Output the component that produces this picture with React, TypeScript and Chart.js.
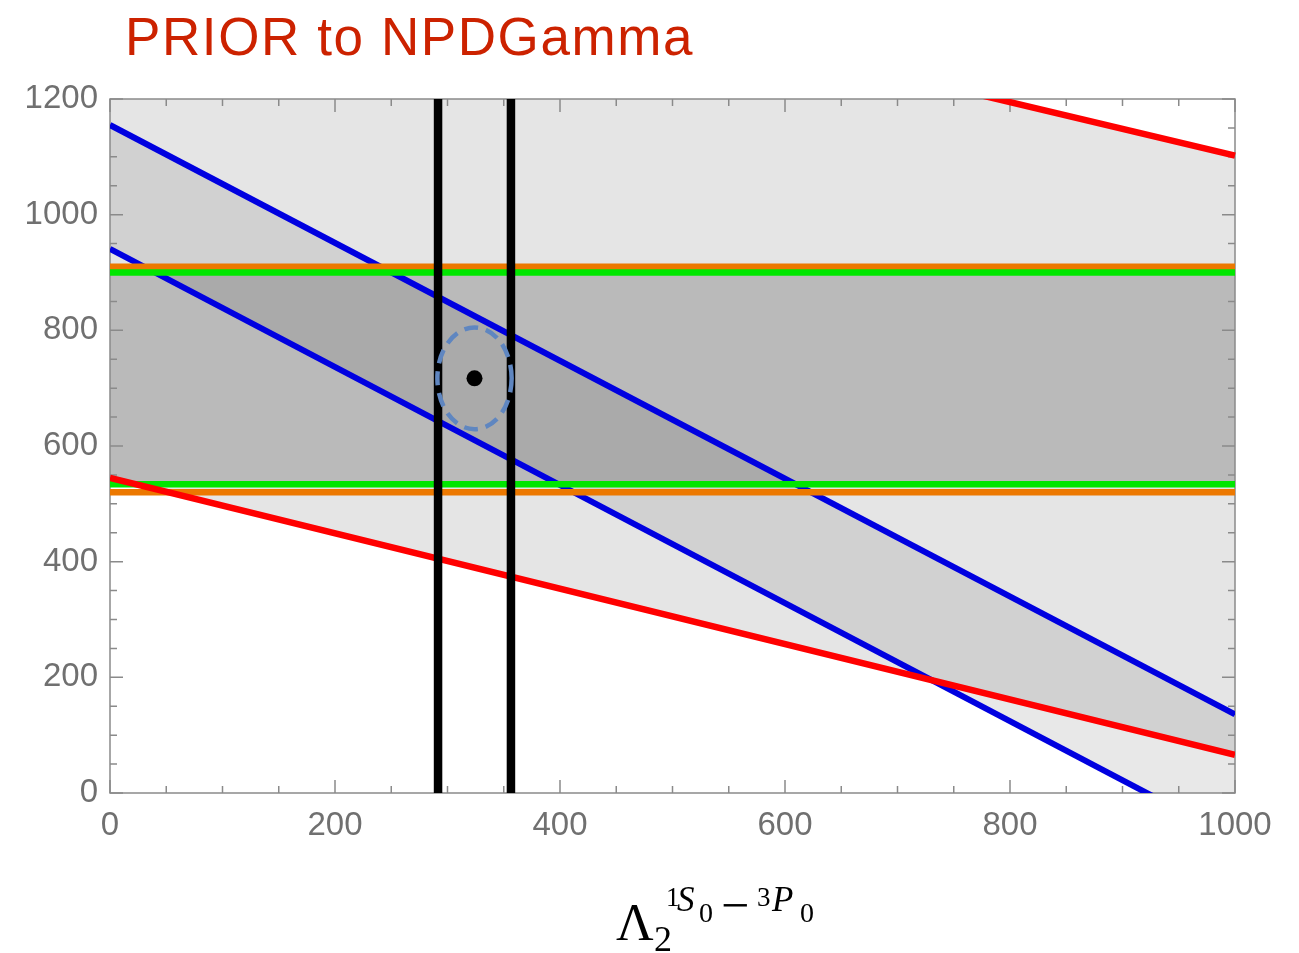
import { useEffect, useRef } from 'react';
import { Chart, registerables } from 'chart.js';

Chart.register(...registerables);

// Axis ranges and tick marks
const xRange = [0, 1000];
const yRange = [0, 1200];
const majorStep = 200;
const minorStep = 50;

// Constraint lines, given by their values at x = 0 and x = 1000
const lineX = [0, 1000];
const redLowerY = [545, 66];
const redUpperY = [1565, 1102];
const blueUpperY = [1155, 136];
const blueLowerY = [941, -80];
const greenLowerY = [534, 534];
const greenUpperY = [900, 900];
const orangeLowerY = [520, 520];
const orangeUpperY = [910, 910];

// Vertical bounds on Λ₂ (x)
const blackX = [291.6, 356.4];

// Best-fit point and its 1σ ellipse (centre, semi-axes)
const bestX = [324];
const bestY = [717];
const ellipseCenter = [324, 717];
const ellipseRadii = [33, 88];

const toPts = (ys: number[]) => lineX.map((x, i) => ({ x, y: ys[i] }));
const vertical = (x: number) => [{ x, y: yRange[0] }, { x, y: yRange[1] }];

const tickValues = (max: number) => {
  const out: number[] = [];
  for (let v = 0; v <= max; v += minorStep) out.push(v);
  return out;
};

const lineDs = (data: any[], color: string, width: number, extra: any = {}) => ({
  type: 'line' as const,
  data,
  borderColor: color,
  borderWidth: width,
  pointRadius: 0,
  tension: 0,
  fill: false,
  borderCapStyle: 'butt' as const,
  ...extra,
});

const framePlugin = {
  id: 'frameTicks',
  beforeDatasetsDraw(chart: any) {
    const { ctx, chartArea: a, scales } = chart;
    const x = scales.x;
    const y = scales.y;
    ctx.save();
    ctx.strokeStyle = '#8a8a8a';
    ctx.lineWidth = 1.5;
    ctx.strokeRect(a.left, a.top, a.right - a.left, a.bottom - a.top);
    ctx.beginPath();
    for (const v of tickValues(xRange[1])) {
      const px = x.getPixelForValue(v);
      const len = v % majorStep === 0 ? 13 : 7;
      ctx.moveTo(px, a.bottom);
      ctx.lineTo(px, a.bottom - len);
      ctx.moveTo(px, a.top);
      ctx.lineTo(px, a.top + len);
    }
    for (const v of tickValues(yRange[1])) {
      const py = y.getPixelForValue(v);
      const len = v % majorStep === 0 ? 13 : 7;
      ctx.moveTo(a.left, py);
      ctx.lineTo(a.left + len, py);
      ctx.moveTo(a.right, py);
      ctx.lineTo(a.right - len, py);
    }
    ctx.stroke();
    ctx.restore();
  },
};

const ellipsePlugin = {
  id: 'sigmaEllipse',
  afterDatasetDraw(chart: any, args: any) {
    if (args.index !== 1) return;
    const { ctx, chartArea: a, scales } = chart;
    const x = scales.x;
    const y = scales.y;
    const cx = x.getPixelForValue(ellipseCenter[0]);
    const cy = y.getPixelForValue(ellipseCenter[1]);
    const rx = Math.abs(x.getPixelForValue(ellipseCenter[0] + ellipseRadii[0]) - cx);
    const ry = Math.abs(y.getPixelForValue(ellipseCenter[1] + ellipseRadii[1]) - cy);
    ctx.save();
    ctx.beginPath();
    ctx.rect(a.left, a.top, a.right - a.left, a.bottom - a.top);
    ctx.clip();
    ctx.setLineDash([14, 8]);
    ctx.lineWidth = 4.5;
    ctx.strokeStyle = '#5f86c0';
    ctx.beginPath();
    ctx.ellipse(cx, cy, rx, ry, 0, 0, Math.PI * 2);
    ctx.stroke();
    ctx.restore();
  },
};

const textPlugin = {
  id: 'labels',
  afterDraw(chart: any) {
    const { ctx } = chart;
    ctx.save();
    ctx.textAlign = 'left';
    ctx.textBaseline = 'alphabetic';
    ctx.fillStyle = '#cc2200';
    ctx.font = '53px "Liberation Sans"';
    (ctx as any).letterSpacing = '1.6px';
    ctx.fillText('PRIOR to NPDGamma', 125, 55);
    (ctx as any).letterSpacing = '0px';

    ctx.fillStyle = '#000';
    const parts = [
      { t: 'Λ', f: '52px "Liberation Serif"', x: 616, y: 940 },
      { t: '2', f: '36px "Liberation Serif"', x: 654, y: 951 },
      { t: '1', f: '27px "Liberation Serif"', x: 666, y: 906 },
      { t: 'S', f: 'italic 35px "Liberation Serif"', x: 677, y: 911 },
      { t: '0', f: '28px "Liberation Serif"', x: 699, y: 922 },
      { t: '−', f: '50px "Liberation Serif"', x: 721, y: 922 },
      { t: '3', f: '27px "Liberation Serif"', x: 757, y: 906 },
      { t: 'P', f: 'italic 35px "Liberation Serif"', x: 772, y: 911 },
      { t: '0', f: '28px "Liberation Serif"', x: 800, y: 922 },
    ];
    for (const p of parts) {
      ctx.font = p.f;
      ctx.fillText(p.t, p.x, p.y);
    }
    ctx.restore();
  },
};

export default function App() {
  const ref = useRef<HTMLCanvasElement>(null);

  useEffect(() => {
    document.body.style.margin = '0';
    const canvas = ref.current;
    if (!canvas) return;
    const tickFont = { family: '"Liberation Sans"', size: 33 };
    const plain = (v: any) => String(v);
    const chart = new Chart(canvas, {
      type: 'line',
      data: {
        datasets: [
          {
            type: 'line',
            data: bestX.map((x, i) => ({ x, y: bestY[i] })),
            showLine: false,
            pointRadius: 8,
            pointBackgroundColor: '#000',
            pointBorderWidth: 0,
            fill: false,
          },
          lineDs(vertical(blackX[0]), '#000', 8.5),
          lineDs(vertical(blackX[1]), '#000', 8.5),
          lineDs(toPts(redLowerY), '#ff0000', 6.5, { fill: '+1', backgroundColor: 'rgba(0,0,0,0.10)' }),
          lineDs(toPts(redUpperY), '#ff0000', 6.5, { clip: { left: 4, top: 0, right: 4, bottom: 4 } }),
          lineDs(toPts(greenLowerY), '#00e600', 6.5, { fill: '+1', backgroundColor: 'rgba(0,0,0,0.19)' }),
          lineDs(toPts(greenUpperY), '#00e600', 6.5),
          lineDs(toPts(orangeLowerY), '#ec7800', 6.5),
          lineDs(toPts(orangeUpperY), '#ec7800', 6.5),
          lineDs(toPts(blueUpperY), '#0000e0', 6, { fill: '+1', backgroundColor: 'rgba(0,0,0,0.09)' }),
          lineDs(toPts(blueLowerY), '#0000e0', 6),
        ] as any,
      },
      options: {
        responsive: false,
        animation: false,
        events: [],
        layout: { padding: { left: 20, top: 99, right: 64, bottom: 100 } },
        plugins: {
          legend: { display: false },
          tooltip: { enabled: false },
          title: { display: false },
          filler: { drawTime: 'beforeDatasetsDraw' },
        } as any,
        scales: {
          x: {
            type: 'linear',
            min: xRange[0],
            max: xRange[1],
            grid: { display: false, drawTicks: false },
            border: { display: false },
            ticks: { stepSize: majorStep, font: tickFont, color: '#707070', padding: 13, maxRotation: 0, callback: plain },
            afterFit: (s: any) => { s.height = 60; },
          },
          y: {
            type: 'linear',
            min: yRange[0],
            max: yRange[1],
            grid: { display: false, drawTicks: false },
            border: { display: false },
            ticks: { stepSize: majorStep, font: tickFont, color: '#707070', padding: 12, callback: plain },
            afterFit: (s: any) => { s.width = 90; },
          },
        },
      },
      plugins: [framePlugin, ellipsePlugin, textPlugin],
    });
    return () => chart.destroy();
  }, []);

  return (
    <div style={{ position: 'fixed', left: 0, top: 0, width: 1299, height: 953 }}>
      <canvas ref={ref} width={1299} height={953} />
    </div>
  );
}
